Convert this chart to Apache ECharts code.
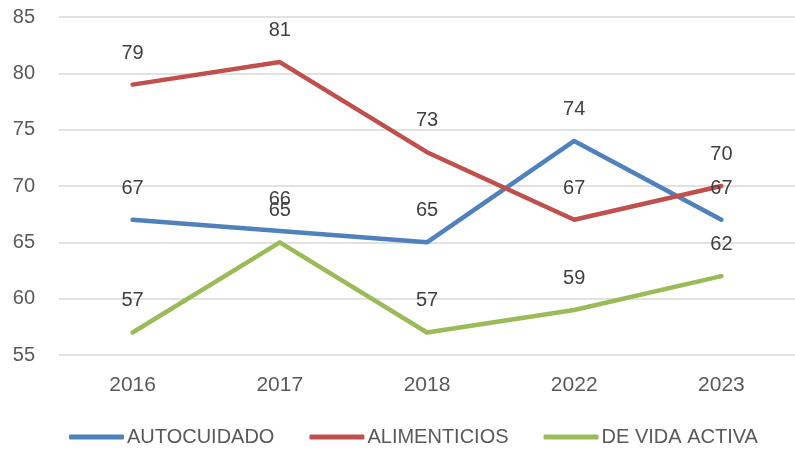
<!DOCTYPE html>
<html><head><meta charset="utf-8">
<script src="https://cdn.jsdelivr.net/npm/echarts@6/dist/echarts.min.js"></script>
<style>html,body{margin:0;padding:0;background:#fff}#c{width:795px;height:452px}</style>
</head><body><div id="c"></div>
<script>
const categories = ['2016','2017','2018','2022','2023'];
const autocuidado = [67, 66, 65, 74, 67];
const alimenticios = [79, 81, 73, 67, 70];
const vidaActiva = [57, 65, 57, 59, 62];
const seriesNames = ['AUTOCUIDADO','ALIMENTICIOS','DE VIDA ACTIVA'];
const colors = ['#4F81BD','#C0504D','#9BBB59'];
const font = "'Liberation Sans', Arial, sans-serif";
function mk(name, data, color){
  return {name, type:'line', data, symbol:'circle', symbolSize:1, showSymbol:true, smooth:false,
    lineStyle:{width:4.5, color, cap:'round', join:'round'}, itemStyle:{color},
    labelLayout:{hideOverlap:false},
    label:{show:true, position:'top', distance:21, fontSize:20, color:'#404040', fontFamily:font}};
}
const chart = echarts.init(document.getElementById('c'));
chart.setOption({
  animation:false,
  color:colors,
  grid:{left:59, top:17, width:740, bottom:97, containLabel:false},
  legend:{bottom:0, left:64, itemWidth:55, itemHeight:5, itemGap:35, icon:'roundRect',
    textStyle:{fontSize:20, color:'#595959', fontFamily:font, padding:[0,0,0,-2]},
    data:seriesNames},
  xAxis:{type:'category', data:categories, boundaryGap:true,
    axisLine:{show:false}, axisTick:{show:false},
    axisLabel:{fontSize:21, color:'#595959', margin:20, fontFamily:font}},
  yAxis:{type:'value', min:55, max:85, interval:5,
    axisLine:{show:false}, axisTick:{show:false},
    axisLabel:{fontSize:20, color:'#595959', margin:24, fontFamily:font},
    splitLine:{lineStyle:{color:'#D9D9D9', width:1.5}}},
  series:[mk(seriesNames[0], autocuidado, colors[0]), mk(seriesNames[1], alimenticios, colors[1]), mk(seriesNames[2], vidaActiva, colors[2])]
});
</script></body></html>
